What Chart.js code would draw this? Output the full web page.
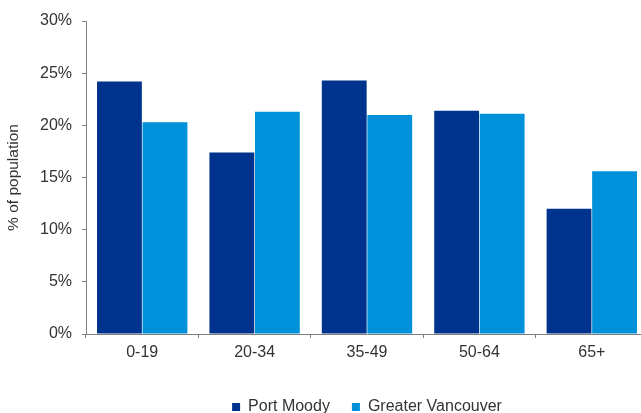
<!DOCTYPE html>
<html>
<head>
<meta charset="utf-8">
<script src="https://cdn.jsdelivr.net/npm/chart.js@4/dist/chart.umd.min.js"></script>
<style>
html,body{margin:0;padding:0;background:#fff;overflow:hidden;}
</style>
</head>
<body>
<canvas id="c" width="650" height="413"></canvas>
<script>
const categories = ['0-19', '20-34', '35-49', '50-64', '65+'];
const portMoody = [24.2, 17.4, 24.3, 21.4, 12.0];
const greaterVancouver = [20.3, 21.3, 21.0, 21.1, 15.6];
const seriesNames = ['Port Moody', 'Greater Vancouver'];
const yTicks = [0, 5, 10, 15, 20, 25, 30];

const font = "'Liberation Sans', Arial, sans-serif";
const textColor = '#333333';
const axisColor = '#7f7f7f';

new Chart(document.getElementById('c'), {
  type: 'bar',
  data: {
    labels: categories,
    datasets: [
      { label: seriesNames[0], data: portMoody, backgroundColor: '#00338D', barPercentage: 0.985, categoryPercentage: 0.81 },
      { label: seriesNames[1], data: greaterVancouver, backgroundColor: '#0091DA', barPercentage: 0.985, categoryPercentage: 0.81 }
    ]
  },
  options: {
    responsive: false,
    animation: false,
    layout: { padding: { top: 21, right: 2, left: 0, bottom: -12 } },
    plugins: {
      tooltip: { enabled: false },
      legend: {
        position: 'bottom',
        fullSize: false,
        labels: {
          font: { family: font, size: 16 },
          color: textColor,
          boxWidth: 8,
          boxHeight: 8,
          padding: 22
        }
      }
    },
    scales: {
      x: {
        grid: { display: true, drawOnChartArea: false, drawTicks: true, tickLength: 4, color: axisColor, offset: true },
        border: { display: true, color: axisColor, width: 1 },
        ticks: { font: { family: font, size: 16 }, color: textColor, padding: 5, maxRotation: 0 },
        afterFit: s => { s.height = 43; }
      },
      y: {
        min: 0,
        max: 30,
        afterBuildTicks: s => { s.ticks = yTicks.map(v => ({ value: v })); },
        grid: { display: true, drawOnChartArea: false, drawTicks: true, tickLength: 4, color: axisColor },
        border: { display: true, color: axisColor, width: 1 },
        ticks: { font: { family: font, size: 16 }, color: textColor, padding: 10, callback: v => v + '%' },
        title: { display: true, text: '% of population', font: { family: font, size: 15.5 }, color: textColor, padding: { top: 4, bottom: 0 } },
        afterFit: s => { s.width = 86; }
      }
    }
  }
});
</script>
</body>
</html>
